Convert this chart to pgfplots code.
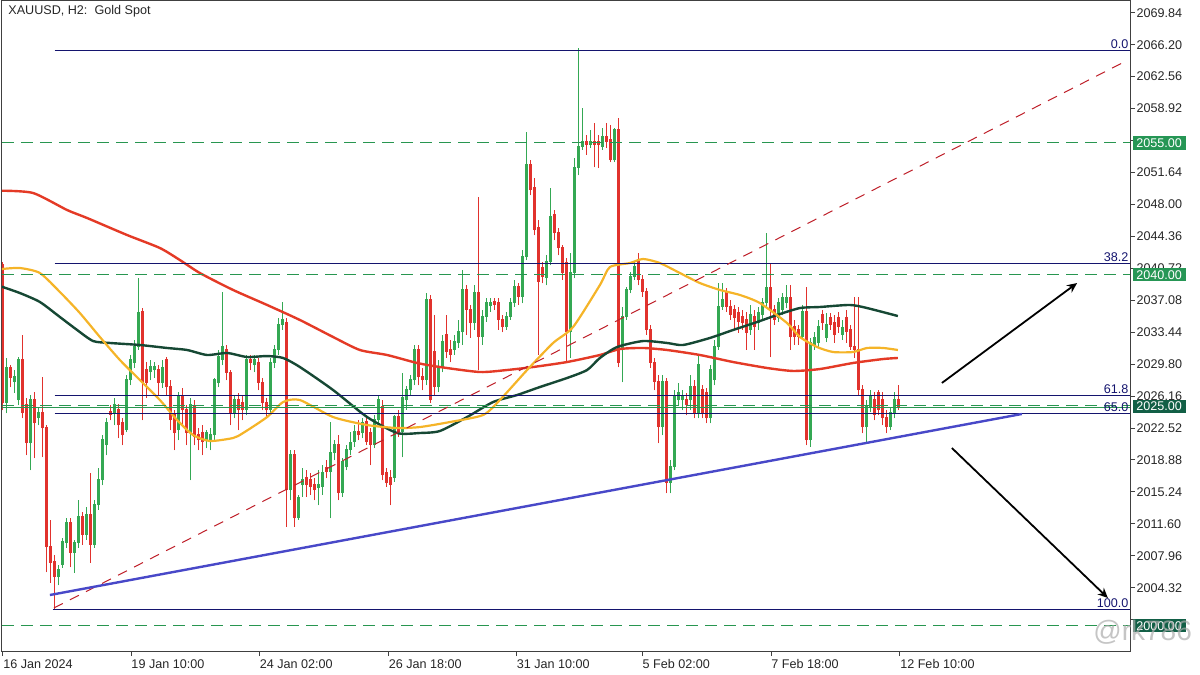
\documentclass[border=0pt]{standalone}
\usepackage{pgfplots}
\pgfplotsset{compat=1.18}
\usepackage{pgfplotstable}
\usepackage{fontspec}
\setmainfont{Liberation Sans}
\usetikzlibrary{arrows.meta}
\definecolor{cgreen}{RGB}{52,168,83}
\definecolor{cred}{RGB}{225,50,45}
\definecolor{cmared}{RGB}{228,58,38}
\definecolor{cmadk}{RGB}{22,72,52}
\definecolor{cmaor}{RGB}{245,180,40}
\definecolor{cblue}{RGB}{72,72,200}
\definecolor{cfib}{RGB}{20,20,110}
\definecolor{cgl}{RGB}{40,150,80}
\definecolor{cbox}{RGB}{38,150,85}
\definecolor{cboxd}{RGB}{18,95,70}
\definecolor{cdash}{RGB}{190,30,40}
\pgfplotstableread{
x o h l c
0 2041.09 2041.43 2024.57 2025.37
1 2025.37 2030.50 2024.23 2029.36
2 2029.36 2029.70 2027.19 2028.22
3 2027.76 2029.13 2026.51 2028.33
4 2025.71 2030.61 2025.14 2030.27
5 2030.27 2033.12 2023.66 2024.23
6 2025.14 2025.94 2019.44 2020.81
7 2020.81 2026.28 2017.73 2025.71
8 2025.71 2026.62 2019.10 2023.09
9 2023.66 2024.80 2022.86 2024.23
10 2024.23 2028.33 2019.21 2022.52
11 2022.52 2022.86 2006.11 2008.96
12 2008.96 2012.04 2004.86 2007.14
13 2007.25 2008.05 2001.89 2005.54
14 2005.54 2006.91 2004.63 2006.34
15 2006.91 2009.99 2006.57 2009.53
16 2009.42 2012.26 2008.85 2011.70
17 2011.70 2012.26 2006.68 2008.28
18 2008.28 2009.76 2006.00 2009.42
19 2009.42 2014.31 2008.85 2012.38
20 2012.38 2012.95 2009.19 2010.33
21 2010.33 2013.52 2009.76 2012.61
22 2012.61 2017.39 2007.14 2009.19
23 2009.19 2014.31 2008.85 2013.74
24 2013.74 2017.96 2013.18 2016.59
25 2016.59 2021.72 2016.02 2021.15
26 2020.58 2023.66 2019.44 2023.09
27 2024.34 2025.14 2023.43 2024.00
28 2024.23 2025.94 2022.86 2025.14
29 2024.57 2025.25 2021.38 2022.86
30 2023.09 2023.66 2020.58 2021.72
31 2022.29 2028.56 2022.06 2027.99
32 2027.99 2030.84 2027.42 2030.27
33 2029.93 2032.55 2029.36 2031.75
34 2031.75 2039.61 2031.41 2035.62
35 2035.74 2036.19 2023.43 2027.65
36 2029.13 2030.04 2025.94 2027.65
37 2028.90 2030.27 2027.99 2029.47
38 2029.13 2030.04 2028.22 2029.47
39 2029.13 2029.70 2026.28 2027.65
40 2027.65 2030.27 2027.08 2029.36
41 2030.27 2030.61 2026.28 2027.19
42 2027.19 2027.99 2022.29 2023.43
43 2024.00 2024.57 2020.01 2021.95
44 2022.29 2026.62 2021.15 2026.05
45 2026.05 2027.08 2022.86 2024.57
46 2024.57 2025.14 2020.58 2021.95
47 2021.95 2025.94 2016.59 2025.14
48 2024.91 2025.71 2020.58 2021.49
49 2021.72 2022.52 2020.01 2021.15
50 2021.95 2022.86 2019.44 2020.92
51 2021.15 2022.29 2020.24 2021.95
52 2021.15 2022.52 2020.01 2021.72
53 2021.72 2028.22 2021.15 2027.99
54 2027.65 2031.41 2027.19 2030.61
55 2030.27 2038.02 2029.70 2031.75
56 2031.41 2031.98 2027.99 2028.79
57 2028.79 2029.13 2022.86 2024.23
58 2024.23 2026.28 2023.66 2025.71
59 2025.71 2026.51 2022.29 2024.57
60 2025.37 2026.28 2023.43 2024.57
61 2024.57 2030.84 2024.00 2030.27
62 2030.27 2030.84 2029.13 2029.93
63 2029.70 2030.84 2028.90 2030.27
64 2029.93 2030.50 2026.85 2027.65
65 2027.65 2028.22 2024.57 2025.37
66 2025.37 2025.94 2023.66 2024.57
67 2024.57 2030.50 2024.00 2029.93
68 2029.93 2031.98 2029.36 2031.41
69 2031.41 2035.05 2030.84 2034.26
70 2034.26 2036.88 2033.69 2034.83
71 2034.48 2035.05 2011.24 2015.45
72 2015.45 2020.01 2014.31 2019.44
73 2019.44 2020.01 2011.24 2012.26
74 2012.26 2014.89 2012.04 2014.54
75 2016.02 2017.96 2014.66 2016.59
76 2016.82 2017.73 2014.66 2016.02
77 2016.59 2017.39 2014.89 2015.80
78 2016.02 2016.82 2014.31 2015.45
79 2015.68 2017.73 2013.74 2016.02
80 2015.80 2018.30 2014.89 2017.39
81 2017.96 2018.87 2016.82 2017.50
82 2017.50 2023.20 2012.26 2019.67
83 2019.67 2021.15 2018.87 2020.58
84 2020.58 2021.72 2014.31 2015.11
85 2015.11 2019.10 2014.66 2018.64
86 2018.07 2020.58 2017.73 2020.01
87 2020.01 2022.06 2019.44 2020.81
88 2020.92 2022.86 2020.36 2022.06
89 2022.06 2023.43 2021.15 2021.72
90 2021.95 2023.66 2021.38 2023.09
91 2023.20 2024.00 2020.58 2020.92
92 2021.95 2022.52 2018.30 2020.58
93 2020.58 2024.00 2020.24 2023.43
94 2023.43 2026.28 2022.86 2025.71
95 2024.91 2025.71 2016.59 2017.16
96 2017.39 2017.96 2015.80 2016.25
97 2016.82 2017.73 2013.74 2016.02
98 2016.82 2024.00 2016.37 2023.77
99 2023.77 2024.57 2021.49 2022.06
100 2022.06 2028.79 2019.21 2025.94
101 2025.71 2027.30 2024.60 2026.85
102 2026.85 2028.56 2026.28 2027.99
103 2027.99 2031.98 2027.42 2031.41
104 2031.41 2031.98 2027.42 2028.33
105 2028.33 2029.36 2026.85 2027.99
106 2027.99 2037.90 2027.42 2037.10
107 2037.10 2037.68 2025.37 2025.71
108 2031.18 2035.40 2026.28 2027.19
109 2027.19 2030.27 2026.62 2029.47
110 2029.47 2033.12 2028.90 2032.32
111 2033.12 2035.40 2030.50 2031.18
112 2031.41 2032.55 2030.04 2030.84
113 2031.41 2033.12 2030.84 2032.32
114 2032.21 2034.83 2031.64 2033.46
115 2033.46 2040.52 2031.98 2038.25
116 2038.25 2038.81 2033.12 2035.97
117 2035.97 2036.54 2032.78 2034.48
118 2034.48 2038.81 2033.69 2037.90
119 2037.90 2048.84 2029.13 2032.89
120 2032.89 2035.97 2031.98 2035.17
121 2035.17 2037.33 2034.60 2036.76
122 2036.42 2037.33 2035.74 2036.76
123 2036.88 2037.33 2035.97 2036.54
124 2036.76 2037.33 2033.69 2034.83
125 2034.83 2035.40 2033.46 2034.03
126 2034.03 2035.74 2033.69 2035.17
127 2035.17 2037.33 2034.83 2036.76
128 2036.76 2039.39 2036.31 2038.59
129 2038.59 2039.04 2036.54 2037.45
130 2037.45 2042.80 2036.76 2042.00
131 2042.00 2056.25 2041.66 2052.49
132 2052.49 2053.06 2049.07 2049.64
133 2049.87 2051.01 2044.51 2045.08
134 2045.31 2046.22 2030.84 2039.16
135 2040.75 2041.43 2039.04 2039.73
136 2039.61 2042.23 2038.81 2041.43
137 2041.43 2049.87 2041.09 2046.56
138 2046.79 2047.36 2043.94 2044.74
139 2044.74 2045.31 2042.23 2043.03
140 2043.03 2043.37 2039.39 2040.18
141 2041.32 2041.89 2030.04 2033.46
142 2033.46 2042.46 2030.50 2040.18
143 2040.18 2053.29 2039.61 2052.15
144 2052.15 2065.82 2051.35 2054.54
145 2054.54 2058.98 2054.20 2055.11
146 2055.11 2055.91 2053.63 2054.77
147 2054.77 2056.48 2054.43 2055.11
148 2055.11 2057.27 2052.26 2054.77
149 2055.11 2055.91 2052.15 2054.77
150 2054.54 2056.70 2054.20 2055.68
151 2055.68 2057.27 2054.43 2055.11
152 2055.34 2057.05 2052.83 2053.06
153 2053.06 2056.70 2052.83 2056.48
154 2056.48 2057.84 2029.47 2029.93
155 2031.41 2036.31 2027.76 2035.17
156 2035.17 2038.59 2034.83 2038.25
157 2038.25 2040.30 2037.90 2039.73
158 2039.73 2041.43 2039.39 2040.86
159 2041.66 2042.46 2038.81 2039.39
160 2039.39 2039.95 2037.45 2038.02
161 2038.02 2038.47 2033.12 2033.69
162 2033.69 2034.26 2029.36 2029.93
163 2029.93 2030.50 2026.85 2027.76
164 2027.76 2028.56 2020.81 2022.63
165 2022.63 2028.56 2021.72 2027.76
166 2027.76 2028.22 2015.11 2016.25
167 2016.25 2018.87 2015.11 2018.07
168 2018.07 2026.85 2017.73 2026.05
169 2025.71 2027.65 2025.14 2026.51
170 2025.71 2026.85 2024.57 2026.05
171 2025.71 2026.51 2024.00 2025.14
172 2025.71 2028.56 2024.57 2027.19
173 2027.19 2027.99 2023.66 2024.23
174 2024.23 2030.84 2023.66 2029.70
175 2026.85 2027.42 2023.66 2024.23
176 2026.51 2027.08 2023.09 2023.66
177 2023.66 2029.70 2023.09 2029.13
178 2027.99 2032.55 2027.42 2031.75
179 2031.75 2039.04 2031.41 2036.31
180 2036.31 2039.04 2035.97 2037.10
181 2038.02 2038.47 2035.74 2036.31
182 2036.31 2037.10 2034.83 2035.40
183 2035.97 2036.54 2033.69 2035.05
184 2035.62 2036.31 2033.35 2034.60
185 2035.17 2035.97 2033.69 2034.48
186 2034.83 2035.74 2031.41 2033.35
187 2033.69 2036.54 2033.12 2035.40
188 2035.17 2035.97 2031.41 2034.03
189 2034.48 2036.31 2033.69 2035.62
190 2035.40 2037.33 2034.83 2036.76
191 2036.76 2044.74 2036.19 2038.47
192 2038.47 2041.32 2030.61 2035.97
193 2035.97 2036.54 2034.26 2034.83
194 2035.05 2037.33 2034.60 2036.76
195 2035.97 2037.90 2035.40 2037.33
196 2036.76 2038.81 2036.19 2037.33
197 2037.33 2038.81 2031.41 2032.89
198 2034.03 2034.83 2031.98 2032.89
199 2033.69 2034.26 2031.98 2032.89
200 2032.89 2036.54 2032.55 2035.74
201 2035.74 2038.59 2020.58 2021.15
202 2021.15 2032.78 2020.36 2032.21
203 2031.98 2033.46 2031.41 2032.78
204 2032.21 2034.83 2031.64 2034.03
205 2035.40 2035.97 2033.69 2034.48
206 2032.78 2035.62 2032.32 2034.26
207 2035.05 2035.62 2033.69 2034.26
208 2034.48 2035.40 2032.21 2033.12
209 2035.05 2035.74 2033.35 2034.03
210 2033.12 2034.83 2032.55 2033.92
211 2035.05 2035.97 2032.21 2033.46
212 2033.69 2034.26 2031.41 2031.75
213 2031.75 2037.45 2030.50 2031.41
214 2031.41 2037.45 2026.28 2026.85
215 2026.85 2027.42 2021.95 2022.63
216 2022.63 2025.71 2020.81 2024.91
217 2024.91 2026.85 2024.34 2026.05
218 2025.71 2026.62 2023.43 2024.00
219 2026.51 2026.85 2024.00 2024.57
220 2025.71 2026.62 2022.86 2023.66
221 2023.66 2024.57 2021.95 2022.63
222 2022.63 2024.80 2022.29 2024.23
223 2024.23 2026.62 2023.66 2025.71
224 2025.71 2027.42 2024.57 2024.91
}\candles
\pgfplotsset{candle/.style={only marks, mark=*, mark size=0pt, mark options={draw=none, fill=none}}}
\begin{document}
\begin{tikzpicture}
\useasboundingbox (0,0) rectangle (600pt,337.5pt);
\begin{axis}[
  at={(1pt,12pt)}, anchor=south west,
  scale only axis, width=564pt, height=325pt,
  xmin=-0.175, xmax=281.83, ymin=1997.11, ymax=2071.18,
  axis line style={draw=black!75, line width=0.5pt},
  tick align=outside, major tick length=2.5pt,
  tick style={draw=black!75, line width=0.5pt},
  xtick pos=left, ytick pos=right,
  xticklabel pos=left, yticklabel pos=right,
  xtick={0.075,32.1,64.2,96.45,128.45,159.9,192.1,224.3},
  xticklabels={16 Jan 2024,19 Jan 10:00,24 Jan 02:00,26 Jan 18:00,31 Jan 10:00,5 Feb 02:00,7 Feb 18:00,12 Feb 10:00},
  ytick={2069.84,2066.20,2062.56,2058.92,2055.28,2051.64,2048.00,2044.36,2040.72,2037.08,2033.44,2029.80,2026.16,2022.52,2018.88,2015.24,2011.60,2007.96,2004.32,2000.68},
  yticklabels={2069.84,2066.20,2062.56,2058.92,,2051.64,2048.00,2044.36,2040.72,2037.08,2033.44,2029.80,2026.16,2022.52,2018.88,2015.24,2011.60,2007.96,2004.32,},
  ticklabel style={font=\fontsize{6.3}{7}\selectfont, text=black!85},
  xticklabel style={anchor=north west, inner xsep=0pt, inner ysep=1.5pt},
  yticklabel style={anchor=west, inner xsep=0.6pt},
  clip mode=individual,
]
% candles: wicks and bodies
\addplot[candle, restrict expr to domain={\thisrow{c}-\thisrow{o}}{0:1000},
  error bars/.cd, y dir=plus, y explicit, error mark=none,
  error bar style={draw=cgreen, line width=0.5pt}]
  table[x=x, y=l, y error expr=\thisrow{h}-\thisrow{l}] {\candles};
\addplot[candle, restrict expr to domain={\thisrow{c}-\thisrow{o}}{-1000:-0.001},
  error bars/.cd, y dir=plus, y explicit, error mark=none,
  error bar style={draw=cred, line width=0.5pt}]
  table[x=x, y=l, y error expr=\thisrow{h}-\thisrow{l}] {\candles};
\addplot[candle, restrict expr to domain={\thisrow{c}-\thisrow{o}}{0:1000},
  error bars/.cd, y dir=plus, y explicit, error mark=none,
  error bar style={draw=cgreen, line width=1.5pt}]
  table[x=x, y expr={min(\thisrow{o},\thisrow{c})}, y error expr={abs(\thisrow{c}-\thisrow{o})+0.08}] {\candles};
\addplot[candle, restrict expr to domain={\thisrow{c}-\thisrow{o}}{-1000:-0.001},
  error bars/.cd, y dir=plus, y explicit, error mark=none,
  error bar style={draw=cred, line width=1.5pt}]
  table[x=x, y expr={min(\thisrow{o},\thisrow{c})}, y error expr={abs(\thisrow{c}-\thisrow{o})+0.08}] {\candles};
% moving averages
\addplot[cmared, line width=1.2pt, smooth, tension=0.4] coordinates {
(-0.2,2049.56) (7.6,2049.30) (16.1,2047.36) (21.1,2046.45) (31.1,2044.51) (39.3,2043.03) (44.3,2041.66) (49.3,2040.18) (57.6,2038.25) (66.1,2036.54) (74.3,2034.83) (82.6,2032.89) (89.3,2031.41) (96.1,2030.84) (103.6,2029.93) (109.3,2029.47) (119.3,2028.90) (126.1,2029.13) (132.6,2029.47) (141.1,2030.04) (149.3,2030.84) (154.3,2031.52) (160.1,2031.64) (166.1,2031.41) (174.3,2030.84) (182.6,2030.04) (191.1,2029.36) (197.6,2029.02) (204.3,2029.24) (212.6,2029.93) (220.1,2030.38) (223.8,2030.50)};
\addplot[cmadk, line width=1.2pt, smooth, tension=0.4] coordinates {
(-0.2,2038.62) (4.3,2037.90) (9.3,2036.88) (14.3,2035.17) (18.6,2033.69) (22.6,2032.43) (26.8,2032.21) (34.3,2031.98) (41.1,2031.64) (46.1,2031.41) (51.1,2030.84) (56.1,2031.07) (61.1,2030.61) (66.1,2030.72) (70.1,2030.50) (74.3,2029.47) (82.6,2026.85) (91.1,2023.77) (98.6,2021.95) (104.3,2021.95) (109.3,2022.18) (116.1,2023.77) (122.6,2025.48) (128.6,2026.28) (134.3,2027.19) (141.1,2028.22) (146.1,2029.13) (149.3,2030.50) (153.6,2031.75) (160.1,2032.43) (166.1,2032.21) (170.1,2031.98) (176.8,2032.78) (182.6,2033.69) (188.6,2034.60) (193.6,2035.40) (199.3,2036.19) (204.3,2036.31) (211.8,2036.54) (216.1,2036.19) (223.8,2035.28)};
\addplot[cmaor, line width=1.1pt, smooth, tension=0.4] coordinates {
(-0.2,2040.64) (4.3,2040.75) (9.3,2040.18) (14.3,2038.02) (19.3,2035.62) (24.3,2032.89) (29.3,2030.27) (34.3,2027.99) (39.3,2025.71) (43.6,2023.43) (47.6,2021.72) (51.8,2021.04) (57.6,2021.38) (60.1,2021.95) (66.1,2023.77) (70.1,2025.48) (74.3,2025.71) (82.6,2023.77) (91.1,2022.86) (98.6,2022.52) (104.3,2022.63) (111.8,2023.20) (120.1,2024.00) (124.3,2025.71) (131.1,2029.13) (137.6,2032.21) (142.6,2034.03) (149.3,2038.81) (151.8,2040.86) (156.8,2041.32) (160.1,2041.78) (164.3,2041.32) (169.3,2040.18) (174.3,2039.04) (179.3,2038.25) (184.3,2037.68) (189.3,2036.76) (196.1,2034.48) (199.3,2032.89) (203.6,2031.75) (207.6,2031.18) (212.6,2031.18) (216.1,2031.64) (220.1,2031.64) (223.8,2031.41)};
% horizontal levels
\addplot[cgl, line width=0.5pt, dash pattern=on 6pt off 3.5pt] coordinates {(-0.175,2055) (281.83,2055)};
\addplot[cgl, line width=0.5pt, dash pattern=on 6pt off 3.5pt] coordinates {(-0.175,2040) (281.83,2040)};
\addplot[cgl, line width=0.5pt, dash pattern=on 6pt off 3.5pt] coordinates {(-0.175,2025.1) (281.83,2025.1)};
\addplot[cgl, line width=0.5pt, dash pattern=on 6pt off 3.5pt] coordinates {(-0.175,2000) (281.83,2000)};
\addplot[cgl, line width=0.45pt] coordinates {(-0.175,2024.91) (281.83,2024.91)};
% fibonacci levels
\addplot[cfib, line width=0.5pt] coordinates {(13.0,2065.59) (281.83,2065.59)};
\addplot[cfib, line width=0.5pt] coordinates {(13.0,2041.25) (281.83,2041.25)};
\addplot[cfib, line width=0.5pt] coordinates {(13.0,2026.20) (281.83,2026.20)};
\addplot[cfib, line width=0.5pt] coordinates {(13.0,2024.17) (281.83,2024.17)};
\addplot[cfib, line width=0.5pt] coordinates {(12.5,2001.86) (281.83,2001.86)};
% trend lines
\addplot[cdash, line width=0.5pt, dash pattern=on 5pt off 4pt] coordinates {(12.8,2002.01) (281.3,2064.45)};
\addplot[cblue, line width=1.2pt] coordinates {(11.8,2003.49) (254.8,2024.12)};
% arrows
\addplot[black, line width=0.9pt, -{Stealth[length=5pt,width=4.5pt]}] coordinates {(234.8,2027.65) (268.6,2039.04)};
\addplot[black, line width=0.9pt, -{Stealth[length=5pt,width=4.5pt]}] coordinates {(237.3,2020.24) (276.3,2003.15)};
% fib labels
\node[anchor=south east, inner sep=0.6pt, text=cfib, font=\fontsize{6.3}{7}\selectfont] at (axis cs:281.83,2065.59) {0.0};
\node[anchor=south east, inner sep=0.6pt, text=cfib, font=\fontsize{6.3}{7}\selectfont] at (axis cs:281.83,2041.25) {38.2};
\node[anchor=south east, inner sep=0.6pt, text=cfib, font=\fontsize{6.3}{7}\selectfont] at (axis cs:281.83,2026.20) {61.8};
\node[anchor=south east, inner sep=0.6pt, text=cfib, font=\fontsize{6.3}{7}\selectfont] at (axis cs:281.83,2024.17) {65.0};
\node[anchor=south east, inner sep=0.6pt, text=cfib, font=\fontsize{6.3}{7}\selectfont] at (axis cs:281.83,2001.86) {100.0};
% title
\node[anchor=north west, inner sep=0pt, text=black!85, font=\fontsize{6.3}{7}\selectfont] at ([xshift=3pt,yshift=-2pt]rel axis cs:0,1) {XAUUSD, H2:~~Gold Spot};
\coordinate (r2055) at (axis cs:281.83,2055);
\coordinate (r2040) at (axis cs:281.83,2040);
\coordinate (r2025) at (axis cs:281.83,2025);
\coordinate (r2000) at (axis cs:281.83,2000);
\end{axis}
\tikzset{pbox/.style={anchor=west, inner xsep=1.8pt, inner ysep=0.9pt, text height=4.6pt, text depth=0.2pt, text=white, font=\fontsize{6.3}{7}\selectfont}}
\node[pbox, fill=cbox] at ([xshift=1.2pt]r2055) {2055.00};
\node[pbox, fill=cbox] at ([xshift=1.2pt]r2040) {2040.00};
\node[pbox, fill=cboxd] at ([xshift=1.2pt]r2025) {2025.00};
\node[pbox, fill=cboxd] at ([xshift=1.2pt]r2000) {2000.00};
\node[anchor=base west, inner sep=0pt, text=gray!65, opacity=0.7, font=\fontsize{14}{16}\selectfont] at (546.5pt,17pt) {@rk786};
\end{tikzpicture}
\end{document}
